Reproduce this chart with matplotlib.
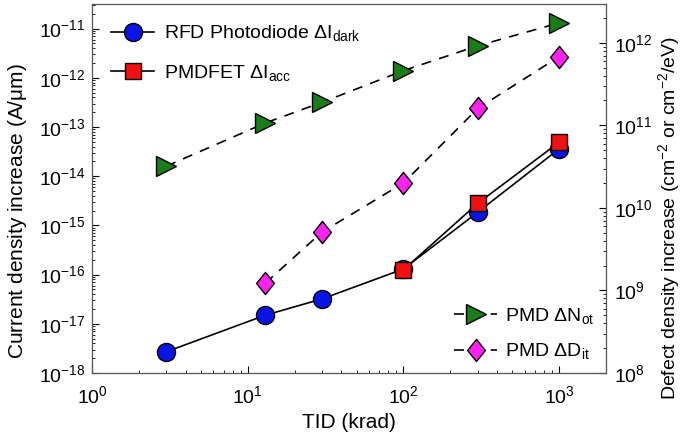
import matplotlib
matplotlib.use("Agg")
import matplotlib.pyplot as plt
from matplotlib.path import Path

plt.rcParams.update({
    'font.family': ['Liberation Sans', 'DejaVu Sans'],
    'mathtext.fontset': 'custom',
    'mathtext.rm': 'Liberation Sans',
    'mathtext.it': 'Liberation Sans',
    'mathtext.bf': 'Liberation Sans',
    'font.size': 14,
})

# data
tid_rfd = [3, 13, 30, 100, 300, 1000]
rfd_dark = [2.7e-18, 1.5e-17, 3.2e-17, 1.3e-16, 1.85e-15, 3.6e-14]

tid_fet = [100, 300, 1000]
fet_acc = [1.25e-16, 2.8e-15, 4.9e-14]

tid_not = [3, 13, 30, 100, 300, 1000]
pmd_not = [3.2e10, 1.07e11, 1.9e11, 4.6e11, 9.2e11, 1.74e12]

tid_dit = [13, 30, 100, 300, 1000]
pmd_dit = [1.23e9, 5.1e9, 2.0e10, 1.6e11, 6.8e11]

x_ticks = [1, 10, 100, 1000]
left_ticks = [1e-18, 1e-17, 1e-16, 1e-15, 1e-14, 1e-13, 1e-12, 1e-11]
right_ticks = [1e8, 1e9, 1e10, 1e11, 1e12]

# slightly narrow diamond
diamond = Path([(0, 1), (0.8, 0), (0, -1), (-0.8, 0), (0, 1)],
               [Path.MOVETO, Path.LINETO, Path.LINETO, Path.LINETO, Path.CLOSEPOLY])

fig = plt.figure(figsize=(6.81, 4.42), dpi=100)
ax = fig.add_axes([92 / 681, 1 - 373 / 442, 514 / 681, 369 / 442])
ax2 = ax.twinx()

l1, = ax.plot(tid_rfd, rfd_dark, '-', color='black', lw=1.2, marker='o', ms=13,
              mfc='#0a14e6', mec='black', mew=1.0, label=r'RFD Photodiode $\Delta$I$_{dark}$')
l2, = ax.plot(tid_fet, fet_acc, '-', color='black', lw=1.2, marker='s', ms=11,
              mfc='#ee1111', mec='black', mew=1.0, label=r'PMDFET $\Delta$I$_{acc}$')

l3, = ax2.plot(tid_not, pmd_not, '--', color='black', lw=1.2, dashes=(6, 5), marker='>', ms=14,
               mfc='#1a7d1a', mec='black', mew=1.0, label=r'PMD $\Delta$N$_{ot}$')
l4, = ax2.plot(tid_dit, pmd_dit, '--', color='black', lw=1.2, dashes=(6, 5), marker=diamond, ms=16,
               mfc='#ff22ee', mec='black', mew=1.0, label=r'PMD $\Delta$D$_{it}$')

ax.set_xscale('log')
ax.set_yscale('log')
ax2.set_yscale('log')
ax.set_xlim(1, 2000)
ax.set_ylim(1e-18, 10 ** -10.5)
ax2.set_ylim(1e8, 10 ** 12.47)
ax.set_xticks(x_ticks)
ax.set_yticks(left_ticks)
ax2.set_yticks(right_ticks)

ax.set_xlabel('TID (krad)', fontsize=15, labelpad=4)
ax.set_ylabel(r'Current density increase (A/$\mu$m)', fontsize=15)
ax2.set_ylabel(r'Defect density increase (cm$^{-2}$ or cm$^{-2}$/eV)', fontsize=14)
ax.yaxis.set_label_coords(-0.122, 0.44)
ax2.yaxis.set_label_coords(1.097, 0.42)

for a in (ax, ax2):
    a.tick_params(which='both', direction='in', labelsize=14)
    a.tick_params(which='major', length=5)
    a.tick_params(which='minor', length=2.5)
ax.tick_params(axis='x', pad=9)
ax.tick_params(axis='y', which='both', right=False, pad=5)
ax2.tick_params(axis='y', which='both', left=False, pad=6)

for s in ax2.spines.values():
    s.set_color('#555555')

ax.legend(handles=[l1, l2], loc='upper left', frameon=False, fontsize=14,
          handlelength=2.2, borderaxespad=0.6, labelspacing=1.0, handletextpad=0.5)
ax2.legend(handles=[l3, l4], loc='lower right', frameon=False, fontsize=14,
           handlelength=2.2, borderaxespad=0.2, labelspacing=0.8, handletextpad=0.4)

fig.savefig('out.png', dpi=100)
